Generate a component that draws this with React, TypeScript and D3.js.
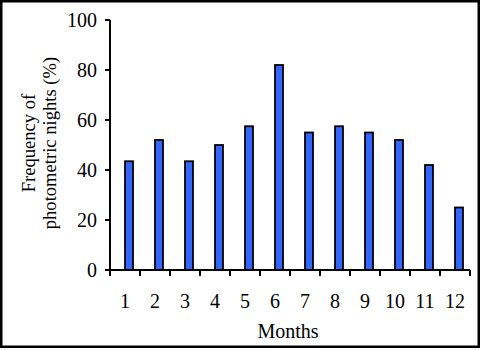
import React from "react";
import * as d3 from "d3";

const months = ["1", "2", "3", "4", "5", "6", "7", "8", "9", "10", "11", "12"];
const frequency = [43.5, 52, 43.5, 50, 57.5, 82, 55, 57.5, 55, 52, 42, 25];
const yTicks = [0, 20, 40, 60, 80, 100];

export default function App() {
  const W = 481, H = 350;
  const left = 110, right = 470, top = 20, bottom = 270;
  const x = d3.scaleBand<string>().domain(months).range([left, right]).padding(0);
  const y = d3.scaleLinear().domain([0, 100]).range([bottom, top]);
  const bw = x.bandwidth();
  const barW = 8;
  const font = "'Liberation Serif', 'Times New Roman', serif";
  return (
    <svg width={W} height={H} style={{ position: "absolute", left: 0, top: 0 }}>
      <rect x={0} y={0} width={W} height={H} fill="#fff" />
      <rect x={1.25} y={1.25} width={W - 3.5} height={H - 4.5} fill="none" stroke="#000" strokeWidth={2.5} />
      {months.map((m, i) => (
        <rect
          key={m}
          x={(x(m) as number) + bw / 2}
          y={y(frequency[i])}
          width={barW}
          height={bottom - y(frequency[i])}
          fill="#3366FF"
          stroke="#000"
          strokeWidth={1.8}
        />
      ))}
      <line x1={left} x2={left} y1={top} y2={bottom} stroke="#000" strokeWidth={2} />
      <line x1={left - 5} x2={right} y1={bottom} y2={bottom} stroke="#000" strokeWidth={2} />
      {yTicks.map((t) => (
        <g key={t}>
          <line x1={left - 5} x2={left} y1={y(t)} y2={y(t)} stroke="#000" strokeWidth={2} />
          <text x={97} y={y(t)} dy="0.35em" textAnchor="end" fontFamily={font} fontSize={20}>{t}</text>
        </g>
      ))}
      {[...months.map((m) => x(m) as number), right].map((p, i) => (
        <line key={i} x1={p} x2={p} y1={bottom} y2={bottom + 6} stroke="#000" strokeWidth={2} />
      ))}
      {months.map((m) => (
        <text key={m} x={(x(m) as number) + bw / 2} y={301} dy="0.35em" textAnchor="middle" fontFamily={font} fontSize={20}>{m}</text>
      ))}
      <text x={(left + right) / 2 - 2} y={331} dy="0.35em" textAnchor="middle" fontFamily={font} fontSize={20}>Months</text>
      <g transform={`translate(38.5, ${(top + bottom) / 2 - 2}) rotate(-90)`}>
        <text x={0} y={-10.5} dy="0.35em" textAnchor="middle" fontFamily={font} fontSize={18.6}>Frequency of</text>
        <text x={0} y={10.5} dy="0.35em" textAnchor="middle" fontFamily={font} fontSize={18.6}>photometric nights (%)</text>
      </g>
    </svg>
  );
}
